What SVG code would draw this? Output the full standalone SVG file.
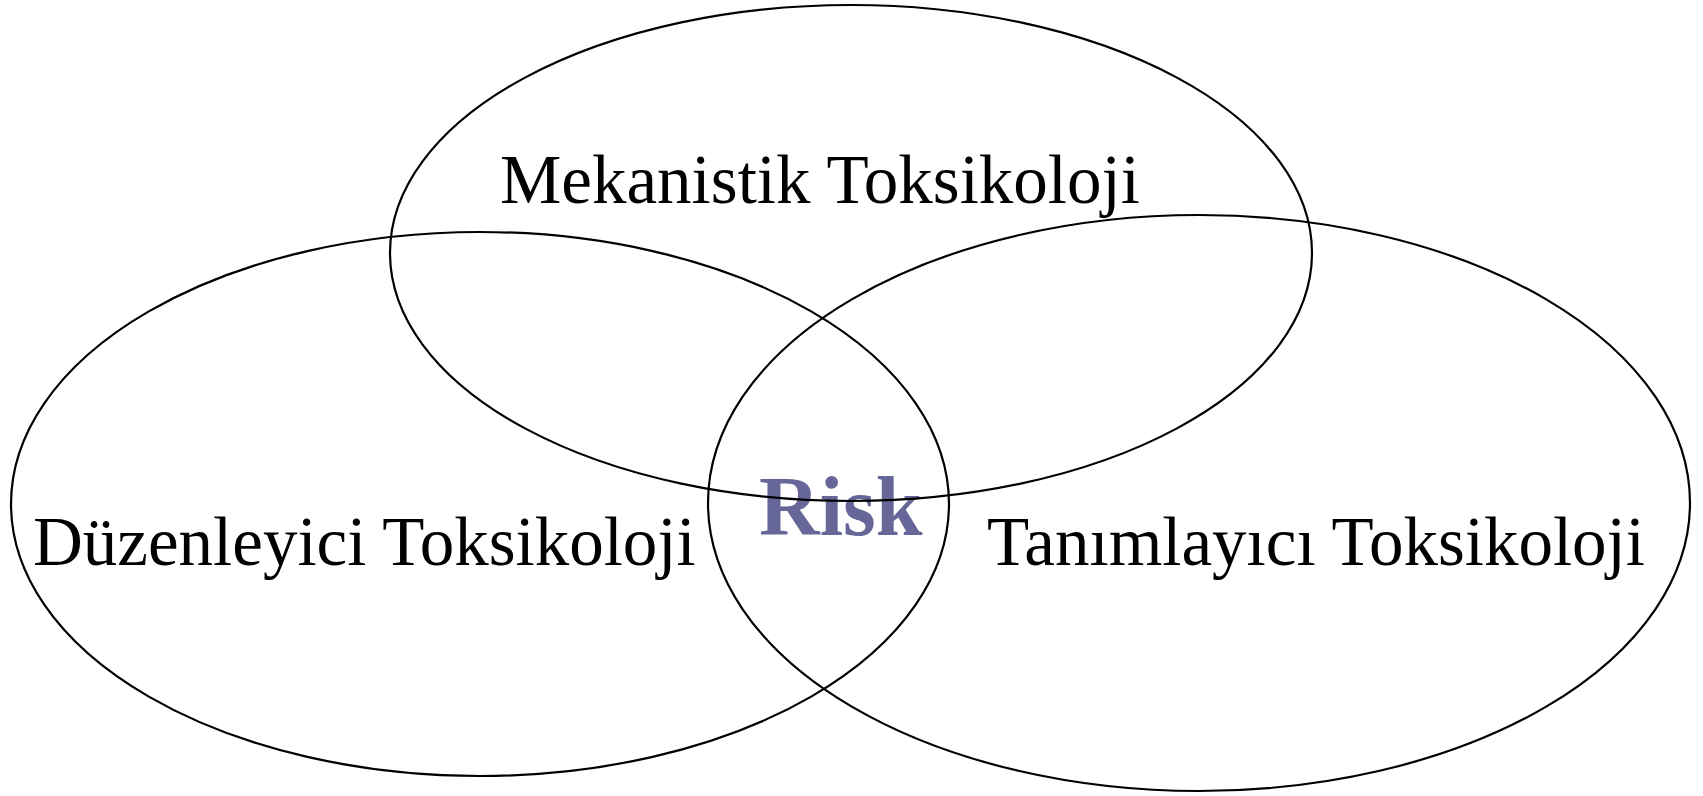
<svg xmlns="http://www.w3.org/2000/svg" width="1703" height="796" viewBox="0 0 1703 796">
<style>
.lbl{font-family:"Liberation Serif","Times New Roman",serif;font-size:69px;fill:#000}
.risk{font-family:"Liberation Serif","Times New Roman",serif;font-size:84px;font-weight:bold;fill:#666699}
.ell{fill:none;stroke:#000;stroke-width:2.2}
</style>
<rect width="1703" height="796" fill="#fff"/>
<g id="risk"><text class="risk" x="759" y="535">Risk</text></g>
<g id="mekanistik">
<ellipse class="ell" cx="851" cy="253" rx="461" ry="248"/>
<text class="lbl" x="500" y="203">Mekanistik Toksikoloji</text>
</g>
<g id="duzenleyici">
<ellipse class="ell" cx="480" cy="504" rx="469" ry="272"/>
<text class="lbl" x="33" y="565">Düzenleyici Toksikoloji</text>
</g>
<g id="tanimlayici">
<ellipse class="ell" cx="1199" cy="503" rx="491" ry="288"/>
<text class="lbl" x="987" y="565">Tanımlayıcı Toksikoloji</text>
</g>
<g id="connectors"></g>
</svg>
